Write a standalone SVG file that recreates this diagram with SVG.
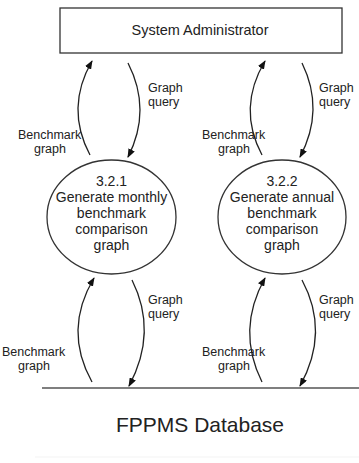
<svg xmlns="http://www.w3.org/2000/svg" width="359" height="463" viewBox="0 0 359 463">
<style>
.t{font-family:"Liberation Sans",Arial,sans-serif;fill:#222;text-anchor:middle}
.s{font-size:12.5px;text-anchor:start}
.c{font-size:14px}
.f{fill:none;stroke:#222;stroke-width:1.3}
.n{fill:#fff;stroke:#333;stroke-width:1.3}
</style>
<defs>
<marker id="ah" markerUnits="userSpaceOnUse" markerWidth="9" markerHeight="7" refX="8" refY="3.5" orient="auto">
<path d="M0,0 L9,3.5 L0,7 z" fill="#111"/>
</marker>
</defs>
<rect width="359" height="463" fill="#fff"/>
<g id="sysadmin">
<rect class="n" x="60" y="8" width="282" height="45"/>
<text class="t" x="200" y="35" font-size="14.5">System Administrator</text>
</g>
<g id="p321">
<ellipse class="n" cx="111.5" cy="217" rx="64.5" ry="57"/>
<text class="t c" x="111.5" y="186">3.2.1</text>
<text class="t c" x="111.5" y="202">Generate monthly</text>
<text class="t c" x="111.5" y="218">benchmark</text>
<text class="t c" x="111.5" y="234">comparison</text>
<text class="t c" x="111.5" y="250">graph</text>
</g>
<g id="p322">
<ellipse class="n" cx="282" cy="217" rx="64" ry="57"/>
<text class="t c" x="282" y="186">3.2.2</text>
<text class="t c" x="282" y="202">Generate annual</text>
<text class="t c" x="282" y="218">benchmark</text>
<text class="t c" x="282" y="234">comparison</text>
<text class="t c" x="282" y="250">graph</text>
</g>
<g id="fppms">
<line x1="42" y1="388" x2="359" y2="388" stroke="#555" stroke-width="1.5"/>
<line x1="35" y1="457" x2="359" y2="457" stroke="#f7f7f7" stroke-width="1.5"/>
<text class="t" x="200" y="432" font-size="21">FPPMS Database</text>
</g>
<g id="connectors">
<path class="f" d="M90 155 Q65 108 92 61" marker-end="url(#ah)"/>
<path class="f" d="M128 63 Q152 110 128 157" marker-end="url(#ah)"/>
<path class="f" d="M262 155 Q237 108 265 61" marker-end="url(#ah)"/>
<path class="f" d="M302 63 Q325 110 300 157" marker-end="url(#ah)"/>
<path class="f" d="M92 382 Q63 330 94 278" marker-end="url(#ah)"/>
<path class="f" d="M132 280 Q158 332 129 386" marker-end="url(#ah)"/>
<path class="f" d="M262 382 Q236 330 265 278" marker-end="url(#ah)"/>
<path class="f" d="M302 280 Q330 332 300 386" marker-end="url(#ah)"/>
<text class="t s" x="148" y="92">Graph</text>
<text class="t s" x="148" y="106">query</text>
<text class="t s" x="319" y="92">Graph</text>
<text class="t s" x="319" y="106">query</text>
<text class="t s" x="18" y="139">Benchmark</text>
<text class="t s" x="34" y="153">graph</text>
<text class="t s" x="202" y="139">Benchmark</text>
<text class="t s" x="218" y="153">graph</text>
<text class="t s" x="148" y="304">Graph</text>
<text class="t s" x="148" y="318">query</text>
<text class="t s" x="319" y="304">Graph</text>
<text class="t s" x="319" y="318">query</text>
<text class="t s" x="2" y="356">Benchmark</text>
<text class="t s" x="18" y="370">graph</text>
<text class="t s" x="202" y="356">Benchmark</text>
<text class="t s" x="218" y="370">graph</text>
</g>
</svg>
